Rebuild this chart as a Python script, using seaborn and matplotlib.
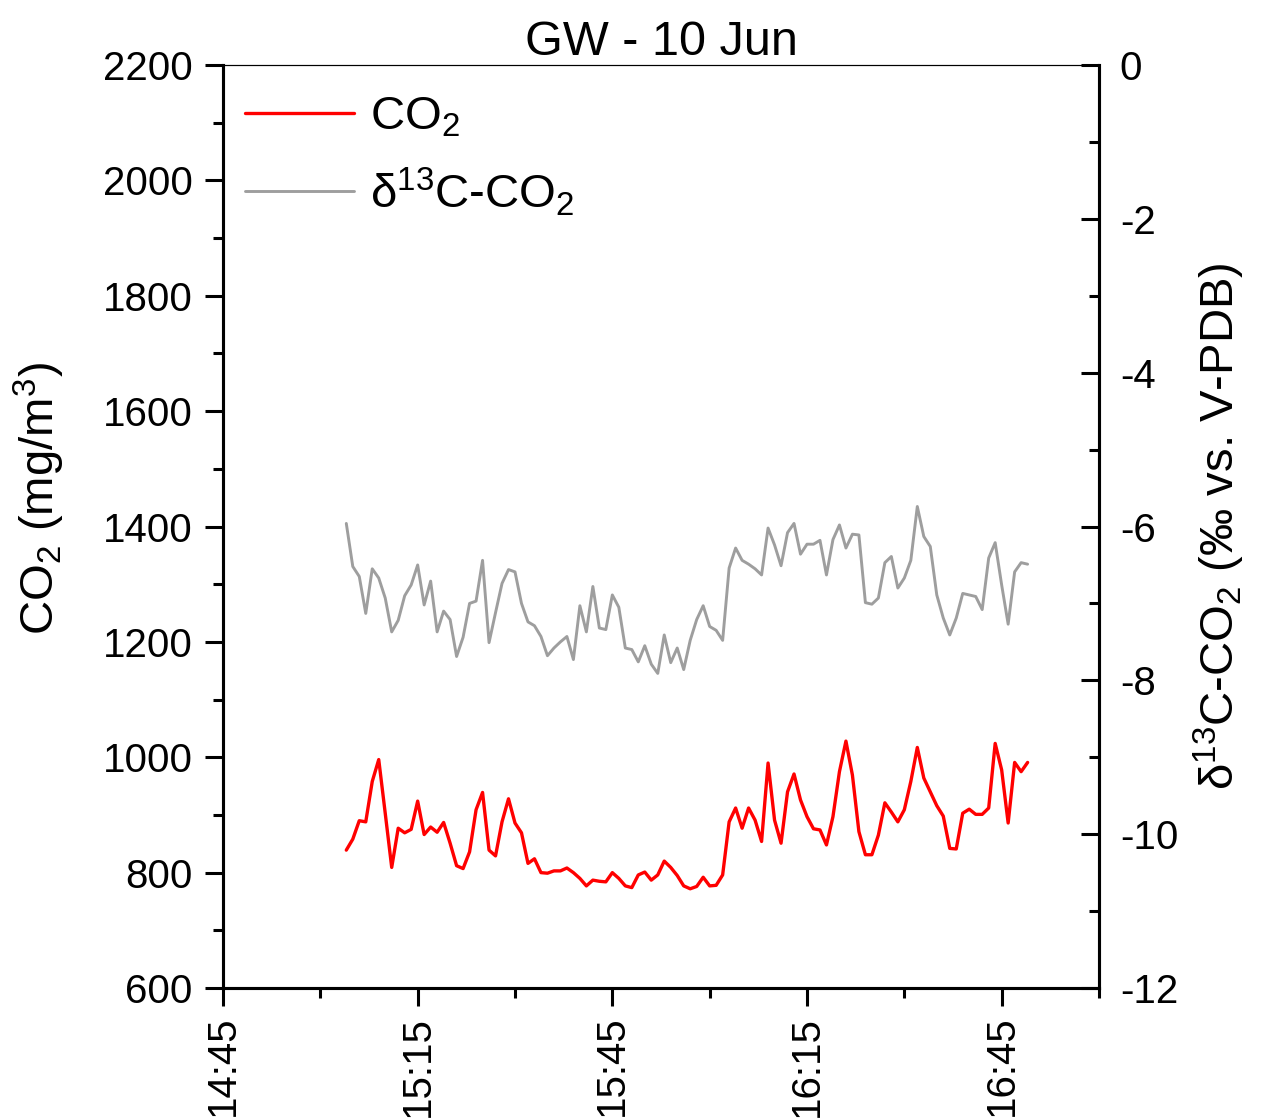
import numpy as np
import pandas as pd
import matplotlib
matplotlib.use("Agg")
import matplotlib.pyplot as plt
import matplotlib.dates as mdates
import seaborn as sns

# ---- data (one reading per minute, 15:04 .. 16:49) ----
start_time = "2000-06-10 15:04"
co2 = [839, 858, 890, 888, 958, 996, 903, 809, 877, 869, 875, 924, 866, 879, 870, 887,
       851, 812, 807, 836, 909, 939, 839, 829, 888, 928, 886, 869, 816, 824, 800, 799,
       803, 803, 808, 800, 790, 777, 787, 785, 784, 800, 790, 777, 774, 796, 801, 787,
       796, 820, 809, 795, 777, 772, 776, 792, 777, 778, 796, 888, 912, 877, 912, 891,
       854, 990, 891, 851, 940, 971, 926, 897, 876, 874, 848, 897, 975, 1028, 969, 871,
       831, 831, 865, 921, 905, 888, 909, 958, 1017, 964, 940, 916, 898, 842, 841, 903,
       910, 901, 901, 912, 1024, 978, 886, 991, 975, 991]
d13c = [-5.96, -6.52, -6.65, -7.13, -6.55, -6.67, -6.93, -7.37, -7.22, -6.90, -6.76, -6.50,
        -7.02, -6.71, -7.37, -7.10, -7.21, -7.69, -7.44, -7.00, -6.97, -6.44, -7.51, -7.12,
        -6.74, -6.56, -6.59, -7.00, -7.24, -7.29, -7.43, -7.68, -7.58, -7.50, -7.43, -7.73,
        -7.03, -7.37, -6.78, -7.32, -7.34, -6.89, -7.05, -7.58, -7.60, -7.76, -7.55, -7.79,
        -7.91, -7.41, -7.77, -7.58, -7.86, -7.48, -7.21, -7.03, -7.30, -7.35, -7.48, -6.54,
        -6.28, -6.44, -6.49, -6.55, -6.63, -6.02, -6.24, -6.51, -6.08, -5.96, -6.36, -6.23,
        -6.23, -6.18, -6.63, -6.17, -5.98, -6.28, -6.10, -6.11, -6.99, -7.01, -6.93, -6.47,
        -6.39, -6.80, -6.67, -6.44, -5.74, -6.13, -6.26, -6.89, -7.19, -7.41, -7.19, -6.87,
        -6.89, -6.91, -7.08, -6.41, -6.21, -6.76, -7.27, -6.59, -6.47, -6.49]
left_ticks = [600, 800, 1000, 1200, 1400, 1600, 1800, 2000, 2200]
right_ticks = [-12, -10, -8, -6, -4, -2, 0]
title = "GW - 10 Jun"
ylabel_left = r"CO$_2$ (mg/m$^3$)"
ylabel_right = r"δ$^{13}$C-CO$_2$ (‰ vs. V-PDB)"
legend_labels = [r"CO$_2$", r"δ$^{13}$C-CO$_2$"]

times = pd.date_range(start_time, periods=len(co2), freq="min")
df = pd.DataFrame({"time": times, "co2": co2, "d13c": d13c})

sns.set_style("ticks")
plt.rcParams["font.family"] = ["Liberation Sans", "DejaVu Sans"]
plt.rcParams["mathtext.fontset"] = "custom"
plt.rcParams["mathtext.rm"] = "Liberation Sans"
plt.rcParams["mathtext.it"] = "Liberation Sans:italic"
plt.rcParams["mathtext.bf"] = "Liberation Sans:bold"
for k in ("text.color", "axes.labelcolor", "xtick.color", "ytick.color", "axes.edgecolor"):
    plt.rcParams[k] = "black"

fig = plt.figure(figsize=(12.71, 11.19), dpi=100)
ax = fig.add_axes([223 / 1271, 1 - 988 / 1119, (1099 - 223) / 1271, (988 - 65) / 1119])
ax2 = ax.twinx()

sns.lineplot(data=df, x="time", y="co2", ax=ax, color="#ff0000", linewidth=2.4, legend=False)
sns.lineplot(data=df, x="time", y="d13c", ax=ax2, color="#9e9e9e", linewidth=2.1, legend=False)

ax.set_xlim(pd.Timestamp("2000-06-10 14:45"), pd.Timestamp("2000-06-10 17:00"))
ax.set_ylim(600, 2200)
ax2.set_ylim(-12, 0)

ax.set_yticks(left_ticks)
ax.yaxis.set_minor_locator(matplotlib.ticker.MultipleLocator(100))
ax2.set_yticks(right_ticks)
ax2.yaxis.set_minor_locator(matplotlib.ticker.MultipleLocator(1))
ax2.set_yticklabels([str(t) for t in right_ticks])

ax.xaxis.set_major_locator(mdates.MinuteLocator(byminute=[15, 45]))
ax.xaxis.set_minor_locator(mdates.MinuteLocator(byminute=[0, 30]))
ax.xaxis.set_major_formatter(mdates.DateFormatter("%H:%M"))

fs = 29
ax.tick_params(axis="y", which="major", direction="out", length=13, width=2.2, labelsize=fs, pad=9)
ax.tick_params(axis="y", which="minor", direction="out", length=7, width=2.2)
ax.tick_params(axis="x", which="major", direction="out", length=13, width=2.2, labelsize=fs, pad=7,
               labelrotation=90)
ax.tick_params(axis="x", which="minor", direction="out", length=7, width=2.2)
ax2.tick_params(axis="y", which="major", direction="in", length=13, width=2.2, labelsize=fs, pad=15)
ax2.tick_params(axis="y", which="minor", direction="in", length=7, width=2.2)

for a in (ax, ax2):
    for s in ("left", "bottom", "right"):
        a.spines[s].set_linewidth(2.2)
        a.spines[s].set_color("black")
    a.spines["top"].set_linewidth(0.8)
    a.spines["top"].set_visible(True)
    a.spines["right"].set_visible(True)

ax.set_xlabel("")
ax.set_ylabel(ylabel_left, fontsize=34)
ax.yaxis.set_label_coords(-0.178, 0.53)
ax2.set_ylabel(ylabel_right, fontsize=34, labelpad=10)
ax.set_title(title, fontsize=35, pad=3)

handles = [ax.lines[0], ax2.lines[0]]
leg = ax2.legend(handles, legend_labels, loc="upper left", bbox_to_anchor=(0.0, 0.991),
                 frameon=False, fontsize=34, handlelength=2.3, handletextpad=0.35,
                 labelspacing=0.55, borderaxespad=0.1, borderpad=0.37)

fig.savefig("out.png", dpi=100)
